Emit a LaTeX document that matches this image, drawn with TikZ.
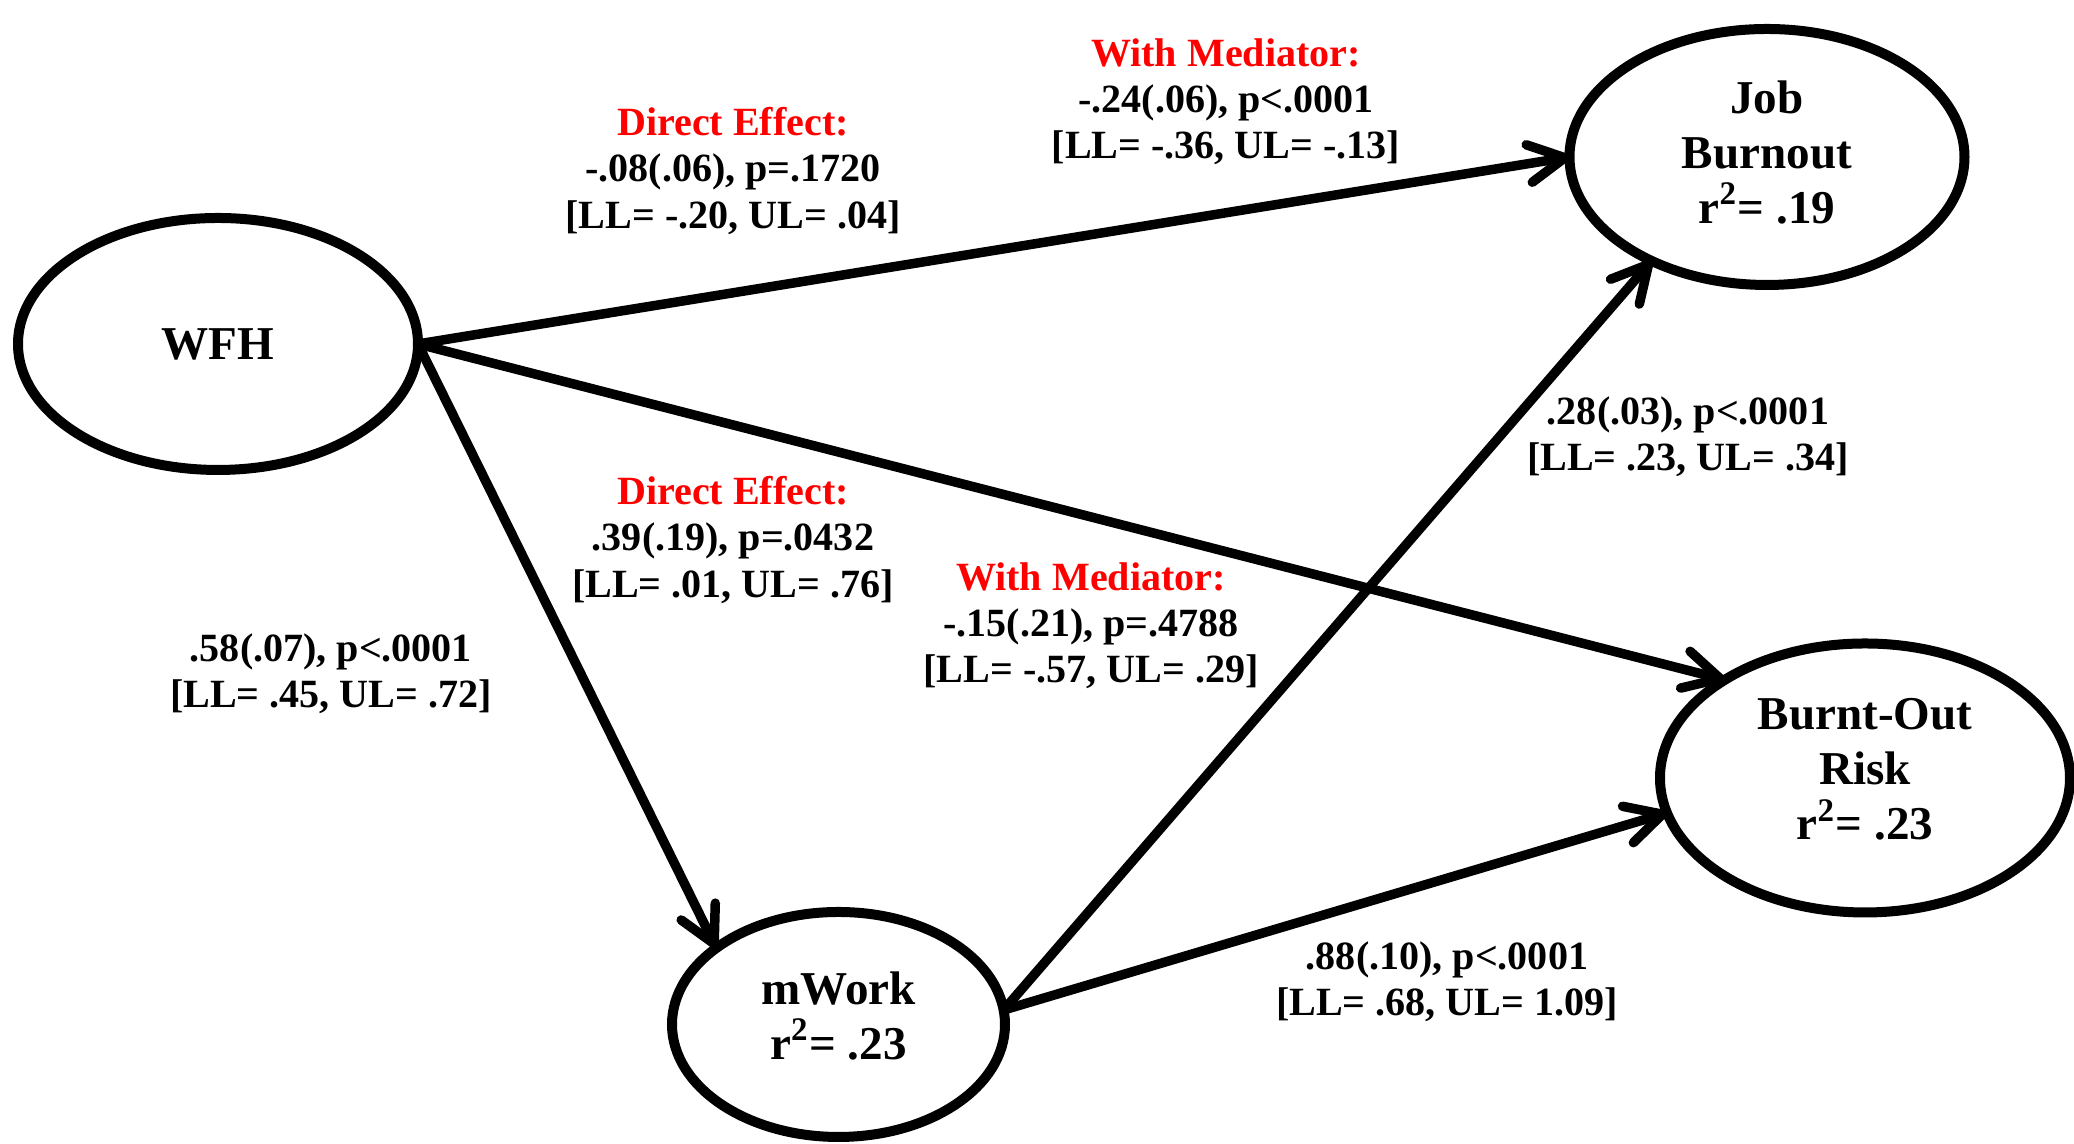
\documentclass[tikz,border=0pt]{standalone}
\usepackage{fontspec}
\setmainfont{Liberation Serif}
\usetikzlibrary{shapes.geometric,arrows.meta}
\definecolor{labred}{RGB}{255,0,0}

\begin{document}
\begin{tikzpicture}[
	var/.style={ellipse, draw, line width=1mm, inner sep=0pt, outer sep=0pt,
		align=center, font=\fontsize{13.4}{15.6}\selectfont\bfseries},
	multi/.style={text depth=#1},
	lbl/.style={align=center, inner sep=0pt, font=\fontsize{11.4}{13.1}\selectfont\bfseries},
	arr/.style={line width=0.95mm, -{Straight Barb[length=3.6mm,width=3.8mm,round]}}
	]

	\useasboundingbox (0,0) rectangle (20.74,11.44);

	% Variables
	\node[var, minimum width=4.00cm, minimum height=2.52cm] (wfh) at (2.18,8.00) {WFH};
	\node[var, multi=1.0mm, minimum width=3.95cm, minimum height=2.56cm] (job) at (17.67,9.87) {Job\\Burnout\\r\textsuperscript{2}= .19};
	\node[var, multi=1.8mm, minimum width=4.10cm, minimum height=2.69cm] (risk) at (18.65,3.66) {Burnt-Out\\Risk\\r\textsuperscript{2}= .23};
	\node[var, multi=1.8mm, minimum width=3.33cm, minimum height=2.25cm] (mwork) at (8.385,1.195) {mWork\\r\textsuperscript{2}= .23};

	% Paths
	\draw[arr] (wfh.east) -- (job.west);
	\draw[arr] (wfh.east) -- (risk.145);
	\draw[arr] (wfh.east) -- (mwork.148);
	\draw[arr] (mwork.5) -- (job.222);
	\draw[arr] (mwork.5) -- (risk.190);

	% Coefficients
	\node[lbl] (dejob) at (7.33,9.73) {\textcolor{labred}{Direct Effect:}\\-.08(.06), p=.1720\\{}[LL= -.20, UL= .04]};
	\node[lbl] (wmjob) at (12.26,10.42) {\textcolor{labred}{With Mediator:}\\-.24(.06), p<.0001\\{}[LL= -.36, UL= -.13]};
	\node[lbl] (derisk) at (7.33,6.04) {\textcolor{labred}{Direct Effect:}\\.39(.19), p=.0432\\{}[LL= .01, UL= .76]};
	\node[lbl] (wmrisk) at (10.91,5.18) {\textcolor{labred}{With Mediator:}\\-.15(.21), p=.4788\\{}[LL= -.57, UL= .29]};
	\node[lbl] (amwork) at (3.31,4.70) {.58(.07), p<.0001\\{}[LL= .45, UL= .72]};
	\node[lbl] (bjob) at (16.88,7.07) {.28(.03), p<.0001\\{}[LL= .23, UL= .34]};
	\node[lbl] (brisk) at (14.47,1.62) {.88(.10), p<.0001\\{}[LL= .68, UL= 1.09]};

\end{tikzpicture}
\end{document}
